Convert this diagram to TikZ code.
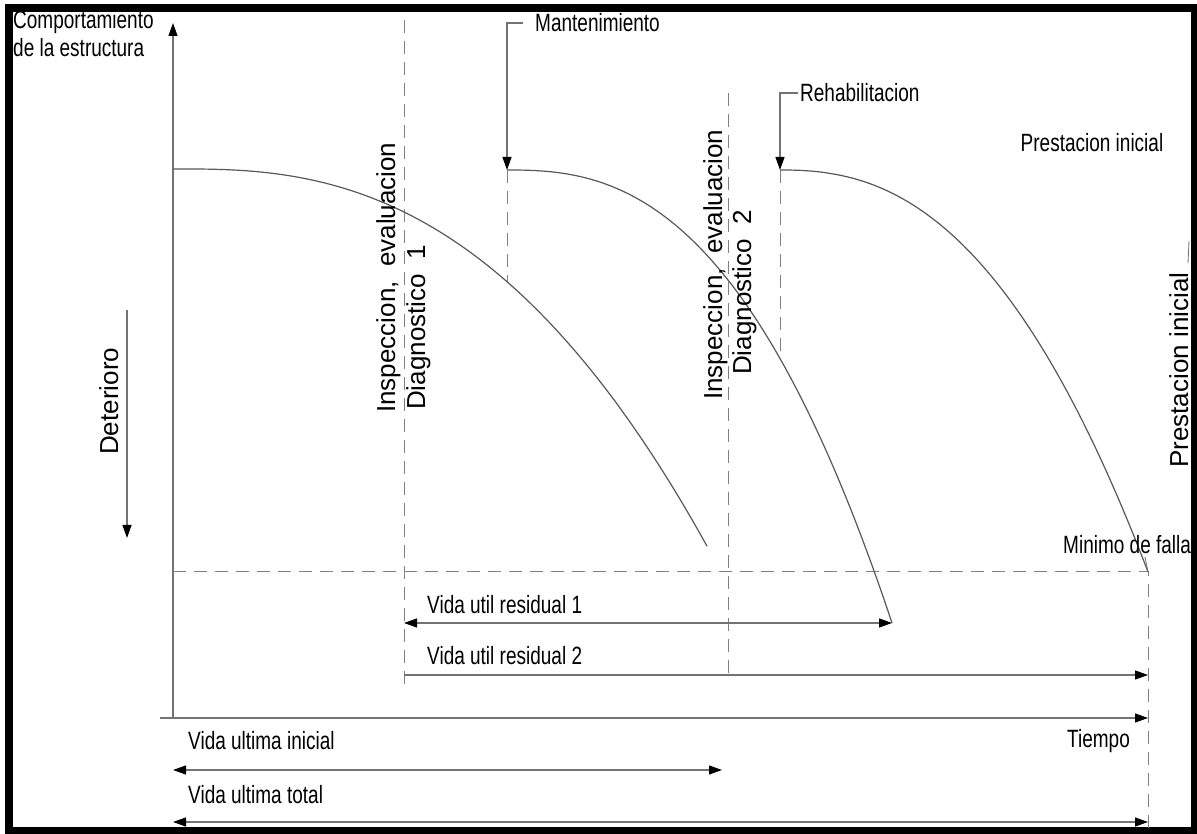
\documentclass[tikz,border=0pt]{standalone}
\usepackage{fontspec}
\setmainfont{Liberation Sans}
\newfontfamily\narrowfont[FakeStretch=0.76]{Liberation Sans}
\usetikzlibrary{arrows.meta}

\tikzset{
  guide/.style={draw=black!55, line width=1.2pt},
  dashline/.style={draw=black!50, line width=1pt, dash pattern=on 13pt off 8pt},
  curve/.style={draw=black!65, line width=1.2pt},
  tipend/.style={-{Triangle[length=13pt,width=9pt,color=black]}},
  tipboth/.style={{Triangle[length=13pt,width=9pt,color=black]}-{Triangle[length=13pt,width=9pt,color=black]}},
  lbl/.style={font=\narrowfont\fontsize{25}{27}\selectfont, inner sep=0pt},
  vlbl/.style={font=\fontsize{26}{30}\selectfont, inner sep=0pt, rotate=90, anchor=base west},
}

\begin{document}
\begin{tikzpicture}[x=1pt,y=1pt]
\useasboundingbox (0,0) rectangle (1197,833);
\fill[white] (0,0) rectangle (1197,833);

% outer frame
\draw[line width=8pt] (9,2) rectangle (1195,825);

% axes
\coordinate (O) at (173,115);
\coordinate (Ytop) at (173,810);
\coordinate (Xl) at (160,115);
\coordinate (Xr) at (1148,115);
\draw[guide,tipend] (O) -- (Ytop);
\draw[guide,tipend] (Xl) -- (Xr);

% reference dashed lines
\coordinate (D1t) at (404,813);
\coordinate (D1b) at (404,143);
\coordinate (D2t) at (728,740);
\coordinate (D2b) at (728,158);
\coordinate (Fl) at (173,261);
\coordinate (Fr) at (1148,261);
\coordinate (Fb) at (1148,3);
\draw[dashline] (D1t) -- (D1b);
\draw[dashline] (D2t) -- (D2b);
\draw[dashline] (Fl) -- (Fr) -- (Fb);

% interventions
\coordinate (Mtxt) at (523,810);
\coordinate (Mk) at (507,810);
\coordinate (Mtip) at (507,663);
\coordinate (Mend) at (507,551);
\draw[guide,tipend] (Mtxt) -- (Mk) -- (Mtip);
\draw[dashline] (Mtip) -- (Mend);

\coordinate (Rtxt) at (798,740);
\coordinate (Rk) at (780,740);
\coordinate (Rtip) at (780,663);
\coordinate (Rend) at (780,481);
\draw[guide,tipend] (Rtxt) -- (Rk) -- (Rtip);
\draw[dashline] (Rtip) -- (Rend);

% deterioration curves
\draw[curve] plot[domain=173:707, samples=90, smooth] (\x, {664-43*((abs(\x-185)+0.01)/219)^2.5});
\draw[curve] plot[domain=507:892, samples=90, smooth] (\x, {663-110*((\x-507+0.01)/221)^2.55});
\draw[curve] plot[domain=780:1148, samples=90, smooth] (\x, {663-402*((\x-780+0.01)/368)^2.4});

% deterioration arrow
\coordinate (Dt) at (127,523);
\coordinate (Db) at (127,295);
\draw[guide,tipend] (Dt) -- (Db);

% life spans
\coordinate (R1a) at (404,210);
\coordinate (R1b) at (892,210);
\coordinate (R2a) at (404,158);
\coordinate (R2b) at (1148,158);
\coordinate (Ia) at (173,63);
\coordinate (Ib) at (722,63);
\coordinate (Ta) at (173,11);
\coordinate (Tb) at (1148,11);
\draw[guide,tipboth] (R1a) -- (R1b);
\draw[guide,tipend] (R2a) -- (R2b);
\draw[guide,tipboth] (Ia) -- (Ib);
\draw[guide,tipboth] (Ta) -- (Tb);

% leaders
\coordinate (Ml1) at (1145,276);
\draw[guide,line width=0.8pt] (Ml1) -- (Fr);
\coordinate (Pl1) at (1188,570);
\coordinate (Pl2) at (1189,592);
\draw[guide,line width=0.8pt] (Pl1) -- (Pl2);

% labels
\node[lbl, anchor=west] (comp) at (13,811) {Comportamiento};
\node[lbl, anchor=west] (estr) at (13,785) {de la estructura};
\node[lbl, anchor=west] (mant) at (535,810) {Mantenimiento};
\node[lbl, anchor=west] (rehab) at (800,740) {Rehabilitacion};
\node[lbl] (prest) at (1092,690) {Prestacion inicial};
\node[lbl, anchor=west] (minf) at (1063,288) {Minimo de falla};
\node[lbl, anchor=west] (vur1) at (427,228) {Vida util residual 1};
\node[lbl, anchor=west] (vur2) at (427,177) {Vida util residual 2};
\node[lbl, anchor=west] (tiempo) at (1067,92) {Tiempo};
\node[lbl, anchor=west] (vui) at (188,92) {Vida ultima inicial};
\node[lbl, anchor=west] (vut) at (188,38) {Vida ultima total};

\node[vlbl] (insp1) at (395,420) {Inspeccion,\ \ evaluacion};
\node[vlbl] (diag1) at (425,423) {Diagnostico\ \ 1};
\node[vlbl] (insp2) at (722,433) {Inspeccion,\ \ evaluacion};
\node[vlbl] (diag2) at (751,458) {Diagnostico\ \ 2};
\node[vlbl] (det) at (118,378) {Deterioro};
\node[vlbl] (prestv) at (1188,365) {Prestacion inicial};
\end{tikzpicture}
\end{document}
